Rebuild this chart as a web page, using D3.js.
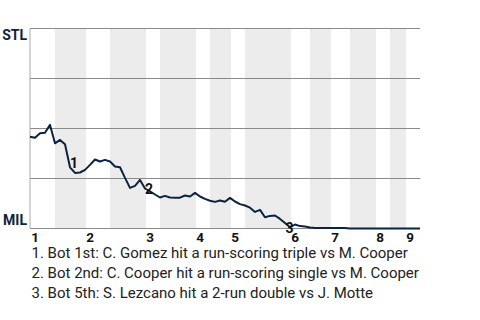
<!DOCTYPE html>
<html>
<head>
<meta charset="utf-8">
<script src="https://cdn.jsdelivr.net/npm/d3@7"></script>
<style>
html,body{margin:0;padding:0;background:#fff;}
svg{display:block;font-family:Roboto,"Noto Sans",sans-serif;}
</style>
</head>
<body>
<svg id="chart" width="480" height="320"></svg>
<script>
// STL win probability (%) after each plate appearance (index 0..78)
const stlWinProb = [
  45.9, 45.4, 47.6, 47.9, 51.8, 42.6, 44.3, 42.1, 30.6, 27.8,
  28.0, 29.3, 31.8, 34.5, 33.5, 34.3, 33.5, 31.0, 30.6, 25.3,
  20.3, 21.3, 24.3, 20.0, 18.6, 17.0, 15.5, 16.3, 15.5, 15.4,
  15.4, 16.5, 16.0, 17.8, 16.0, 14.8, 13.9, 13.3, 14.0, 13.4,
  15.3, 13.5, 12.2, 11.5, 10.4, 8.3, 9.3, 5.6, 6.3, 6.5,
  4.8, 2.7, 0.6, 2.0, 1.2, 1.0, 0.5, 0.3, 0.3, 0.3,
  0.3, 0.3, 0.3, 0.3, 0.0, 0.0, 0.0, 0.0, 0.0, 0.0,
  0.0, 0.0, 0.0, 0.0, 0.0, 0.0, 0.0, 0.0, 0.0
];
// plate-appearance index where each half-inning starts (last = end of game)
const halfInningStarts = [0,5,11,16,23,26,33,36,40,43,52,56,60,64,69,72,75,78];
const inningLabels = ["1","2","3","4","5","6","7","8","9"];
const teamTop = "STL";
const teamBottom = "MIL";
const yGridValues = [0,25,50,75,100];
// annotation anchors (PA index, STL win %)
const annLabels = ["1","2","3"];
const annIndex = [8.8, 23.8, 51.9];
const annValue = [33, 19.8, 0.5];
const notes = [
  "1. Bot 1st: C. Gomez hit a run-scoring triple vs M. Cooper",
  "2. Bot 2nd: C. Cooper hit a run-scoring single vs M. Cooper",
  "3. Bot 5th: S. Lezcano hit a 2-run double vs J. Motte"
];

const svg = d3.select("#chart");
const pLeft = 30, pRight = 420, pTop = 28.5, pBottom = 228.5;
const x = d3.scaleLinear().domain([0, stlWinProb.length - 1]).range([pLeft, pRight]);
const y = d3.scaleLinear().domain([0, 100]).range([pBottom, pTop]);

// shaded bottom-half innings
const bands = [];
for (let i = 1; i < halfInningStarts.length - 1; i += 2) {
  bands.push([halfInningStarts[i], halfInningStarts[i + 1]]);
}
svg.append("g").selectAll("rect").data(bands).join("rect")
  .attr("x", d => x(d[0]))
  .attr("width", d => x(d[1]) - x(d[0]) + 1)
  .attr("y", pTop)
  .attr("height", pBottom - pTop)
  .attr("fill", "#ececec");

// horizontal grid
svg.append("g").selectAll("line").data(yGridValues).join("line")
  .attr("x1", pLeft).attr("x2", pRight)
  .attr("y1", d => y(d)).attr("y2", d => y(d))
  .attr("stroke", "#8a8a8a").attr("stroke-width", 1);
// left axis line
svg.append("line")
  .attr("x1", pLeft).attr("x2", pLeft).attr("y1", pTop).attr("y2", pBottom)
  .attr("stroke", "#aaa").attr("stroke-width", 1);

// team labels
svg.append("text").text(teamTop)
  .attr("x", 27).attr("y", 39.5).attr("text-anchor", "end")
  .attr("font-size", 14).attr("font-weight", "bold").attr("fill", "#0c2340");
svg.append("text").text(teamBottom)
  .attr("x", 27).attr("y", 225).attr("text-anchor", "end")
  .attr("font-size", 14).attr("font-weight", "bold").attr("fill", "#0c2340");

// inning labels
const inningStarts = halfInningStarts.filter((d, i) => i % 2 === 0).slice(0, inningLabels.length);
svg.append("g").selectAll("text").data(inningLabels).join("text")
  .text(d => d)
  .attr("x", (d, i) => x(inningStarts[i]) + 5)
  .attr("y", 242)
  .attr("text-anchor", "middle")
  .attr("font-size", 13.5).attr("font-weight", "bold").attr("fill", "#111");

// win probability line
const line = d3.line().x((d, i) => x(i)).y(d => y(d));
svg.append("path").datum(stlWinProb)
  .attr("d", line)
  .attr("fill", "none")
  .attr("stroke", "#0c2340")
  .attr("stroke-width", 2)
  .attr("stroke-linejoin", "round");

// annotation markers
svg.append("g").selectAll("text").data(annLabels).join("text")
  .text(d => d)
  .attr("x", (d, i) => x(annIndex[i]))
  .attr("y", (d, i) => y(annValue[i]))
  .attr("text-anchor", "middle")
  .attr("dominant-baseline", "central")
  .attr("font-size", 14).attr("font-weight", "bold").attr("fill", "#111");

// notes
svg.append("g").selectAll("text").data(notes).join("text")
  .text(d => d)
  .attr("x", 31.5)
  .attr("y", (d, i) => 257.5 + i * 20)
  .attr("font-size", 15).attr("fill", "#222");
</script>
</body>
</html>
